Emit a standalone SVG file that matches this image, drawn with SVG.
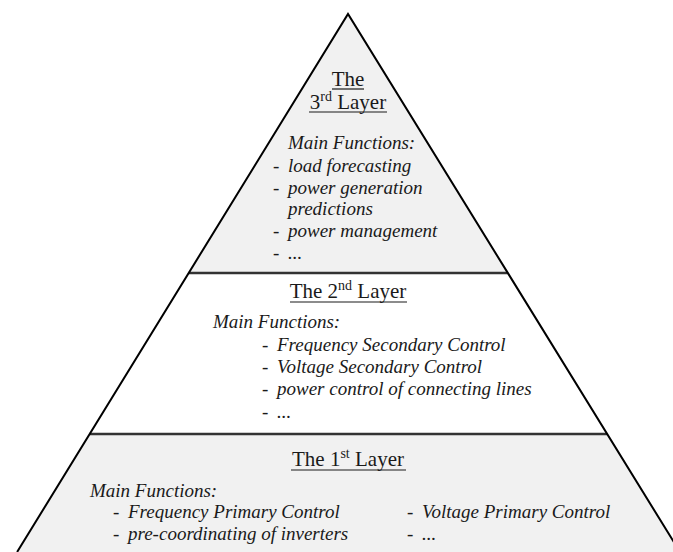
<svg xmlns="http://www.w3.org/2000/svg" width="673" height="552" viewBox="0 0 673 552">
<style>
text{font-family:'Liberation Serif','Times New Roman','DejaVu Serif',serif;fill:#1a1a1a}
.h{font-size:21px}
.s{font-size:14px}
.i{font-size:19px;font-style:italic}
.d{font-size:19px}
.ul{stroke:#1a1a1a;stroke-width:1.2}
.sep{stroke:#333;stroke-width:2.5}
.edge{stroke:#000;stroke-width:2;fill:none}
</style>
<rect width="673" height="552" fill="#fff"/>
<g id="outline">
<polygon points="348,14 188.7,273 507.8,273" fill="#f1f1f1"/>
<polygon points="89.7,434 607.1,434 680,552 17.1,552" fill="#f1f1f1"/>
<line class="sep" x1="188.7" y1="273" x2="507.8" y2="273"/>
<line class="sep" x1="89.7" y1="434" x2="607.1" y2="434"/>
<polyline class="edge" points="17.1,552 348,14 680,552"/>
</g>
<g id="layer3" font-family="Liberation Serif, Times New Roman, serif">
<text class="h" x="348" y="86" text-anchor="middle">The</text>
<line class="ul" x1="332" y1="89" x2="364" y2="89"/>
<text class="h" x="348" y="109" text-anchor="middle">3<tspan class="s" dy="-8">rd</tspan><tspan dy="8"> Layer</tspan></text>
<line class="ul" x1="309" y1="112" x2="387" y2="112"/>
<text class="i" x="288" y="149">Main Functions:</text>
<text class="d" x="273" y="172">-</text><text class="i" x="288" y="172">load forecasting</text>
<text class="d" x="273" y="194">-</text><text class="i" x="288" y="194">power generation</text>
<text class="i" x="288" y="215">predictions</text>
<text class="d" x="273" y="237">-</text><text class="i" x="288" y="237">power management</text>
<text class="d" x="273" y="259">-</text><text class="i" x="288" y="259">...</text>
</g>
<g id="layer2" font-family="Liberation Serif, Times New Roman, serif">
<text class="h" x="348" y="298" text-anchor="middle">The 2<tspan class="s" dy="-8">nd</tspan><tspan dy="8"> Layer</tspan></text>
<line class="ul" x1="290" y1="302" x2="407" y2="302"/>
<text class="i" x="213" y="328">Main Functions:</text>
<text class="d" x="262" y="351">-</text><text class="i" x="277" y="351">Frequency Secondary Control</text>
<text class="d" x="262" y="373">-</text><text class="i" x="277" y="373">Voltage Secondary Control</text>
<text class="d" x="262" y="395">-</text><text class="i" x="277" y="395">power control of connecting lines</text>
<text class="d" x="262" y="418">-</text><text class="i" x="277" y="418">...</text>
</g>
<g id="layer1" font-family="Liberation Serif, Times New Roman, serif">
<text class="h" x="348" y="466" text-anchor="middle">The 1<tspan class="s" dy="-8">st</tspan><tspan dy="8"> Layer</tspan></text>
<line class="ul" x1="291" y1="470" x2="406" y2="470"/>
<text class="i" x="90" y="497">Main Functions:</text>
<text class="d" x="113" y="518">-</text><text class="i" x="128" y="518">Frequency Primary Control</text>
<text class="d" x="113" y="540">-</text><text class="i" x="128" y="540">pre-coordinating of inverters</text>
<text class="d" x="407" y="518">-</text><text class="i" x="422" y="518">Voltage Primary Control</text>
<text class="d" x="407" y="540">-</text><text class="i" x="422" y="540">...</text>
</g>
</svg>
